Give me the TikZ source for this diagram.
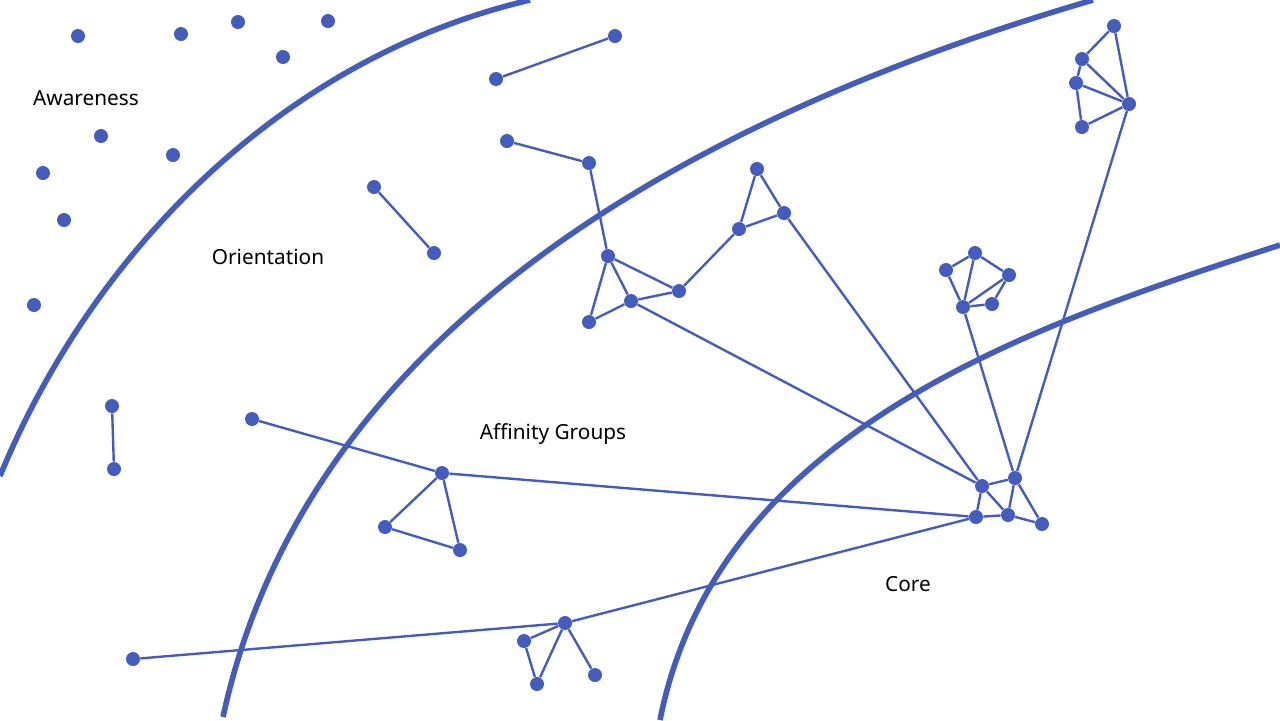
\documentclass[tikz,border=0pt]{standalone}
\usepackage{fontspec}
\setmainfont{Noto Sans}
\usepackage{xcolor}
\usepackage{tikz}
\definecolor{netblue}{RGB}{68,92,188}

\begin{document}
\begin{tikzpicture}[
    x=0.5pt, y=-0.5pt,
    font=\fontsize{10.4}{12}\selectfont,
    dot/.style={circle, fill=netblue, inner sep=0pt, minimum size=7pt},
    ring/.style={draw=netblue, line width=2.8pt},
    link/.style={draw=netblue, line width=1.2pt},
    zone/.style={text=black, inner sep=1pt}
  ]
  \useasboundingbox (0,0) rectangle (1280,720);
  % zone boundaries
  \draw[ring] (0,476) .. controls (94,248) and (286,57) .. (530,0);
  \draw[ring] (223,717) .. controls (311,309) and (731,106) .. (1093,0);
  \draw[ring] (660,720) .. controls (718,428) and (1034,325) .. (1280,245);
  % zone labels
  \node[zone] (lawa) at (86,98) {Awareness};
  \node[zone] (lori) at (268,257) {Orientation};
  \node[zone] (laff) at (553,434) {Affinity Groups};
  \node[zone] (lcor) at (908,584) {Core};
  % awareness: loose members
  \node[dot] (aw1) at (78,36) {};
  \node[dot] (aw2) at (181,34) {};
  \node[dot] (aw3) at (238,22) {};
  \node[dot] (aw4) at (328,21) {};
  \node[dot] (aw5) at (283,57) {};
  \node[dot] (aw6) at (101,136) {};
  \node[dot] (aw7) at (173,155) {};
  \node[dot] (aw8) at (43,173) {};
  \node[dot] (aw9) at (64,220) {};
  \node[dot] (aw10) at (34,305) {};
  % orientation: pairs
  \node[dot] (or1) at (496,79) {};
  \node[dot] (or2) at (615,36) {};
  \node[dot] (or3) at (374,187) {};
  \node[dot] (or4) at (434,253) {};
  \node[dot] (or5) at (112,406) {};
  \node[dot] (or6) at (114,469) {};
  % chain toward the core
  \node[dot] (ch1) at (507,141) {};
  \node[dot] (ch2) at (589,163) {};
  \node[dot] (ch3) at (608,256) {};
  \node[dot] (ch4) at (589,322) {};
  \node[dot] (ch5) at (631,301) {};
  \node[dot] (ch6) at (679,291) {};
  \node[dot] (ch7) at (739,229) {};
  \node[dot] (ch8) at (757,169) {};
  \node[dot] (ch9) at (784,213) {};
  % affinity triangle
  \node[dot] (tr1) at (252,419) {};
  \node[dot] (tr2) at (442,473) {};
  \node[dot] (tr3) at (385,527) {};
  \node[dot] (tr4) at (460,550) {};
  % bottom group
  \node[dot] (bt1) at (133,659) {};
  \node[dot] (bt2) at (565,623) {};
  \node[dot] (bt3) at (524,641) {};
  \node[dot] (bt4) at (537,684) {};
  \node[dot] (bt5) at (595,675) {};
  % pentagon group
  \node[dot] (pe1) at (946,270) {};
  \node[dot] (pe2) at (975,253) {};
  \node[dot] (pe3) at (1009,275) {};
  \node[dot] (pe4) at (992,304) {};
  \node[dot] (pe5) at (963,307) {};
  % top right group
  \node[dot] (tp1) at (1114,26) {};
  \node[dot] (tp2) at (1082,59) {};
  \node[dot] (tp3) at (1076,83) {};
  \node[dot] (tp4) at (1082,127) {};
  \node[dot] (tp5) at (1129,104) {};
  % core
  \node[dot] (co1) at (982,486) {};
  \node[dot] (co2) at (1015,478) {};
  \node[dot] (co3) at (976,517) {};
  \node[dot] (co4) at (1008,515) {};
  \node[dot] (co5) at (1042,524) {};
  % links
  \draw[link] (or1) -- (or2);
  \draw[link] (or3) -- (or4);
  \draw[link] (or5) -- (or6);
  \draw[link] (ch1) -- (ch2) -- (ch3);
  \draw[link] (ch3) -- (ch4) -- (ch5) -- (ch3);
  \draw[link] (ch3) -- (ch6);
  \draw[link] (ch5) -- (ch6) -- (ch7);
  \draw[link] (ch7) -- (ch8) -- (ch9) -- (ch7);
  \draw[link] (ch9) -- (co1);
  \draw[link] (ch5) -- (co1);
  \draw[link] (tr1) -- (tr2);
  \draw[link] (tr2) -- (tr3) -- (tr4) -- (tr2);
  \draw[link] (tr2) -- (co3);
  \draw[link] (bt1) -- (bt2);
  \draw[link] (bt2) -- (co3);
  \draw[link] (bt2) -- (bt3) -- (bt4) -- (bt2);
  \draw[link] (bt2) -- (bt5);
  \draw[link] (pe1) -- (pe2) -- (pe3) -- (pe4) -- (pe5) -- (pe1);
  \draw[link] (pe2) -- (pe5);
  \draw[link] (pe3) -- (pe5);
  \draw[link] (pe5) -- (co2);
  \draw[link] (tp1) -- (tp2) -- (tp3) -- (tp4) -- (tp5) -- (tp1);
  \draw[link] (tp2) -- (tp5);
  \draw[link] (tp3) -- (tp5);
  \draw[link] (tp5) -- (co2);
  \draw[link] (co1) -- (co2) -- (co5) -- (co4) -- (co3) -- (co1);
  \draw[link] (co1) -- (co4);
  \draw[link] (co2) -- (co4);
\end{tikzpicture}
\end{document}
